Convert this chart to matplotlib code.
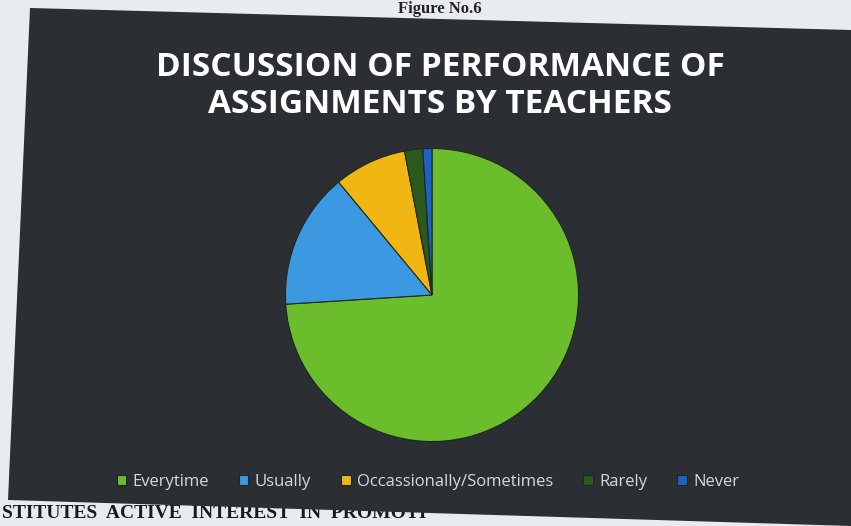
import matplotlib
matplotlib.use("Agg")
import matplotlib.pyplot as plt
from matplotlib.patches import Polygon

categories = ["Everytime", "Usually", "Occassionally/Sometimes", "Rarely", "Never"]
values = [74, 15, 8, 2, 1]
colors = ["#6cbd2c", "#3d98e2", "#f1b611", "#2c5a1e", "#1e62c8"]
title = "DISCUSSION OF PERFORMANCE OF\nASSIGNMENTS BY TEACHERS"

W, H = 851, 526
fig = plt.figure(figsize=(W / 100, H / 100), dpi=100)
fig.patch.set_facecolor("#e9ecef")

def fx(x):
    return x / W

def fy(y):
    return 1 - y / H

# dark chart panel (photographed, slightly skewed)
poly = Polygon([(fx(30), fy(8)), (fx(851), fy(30)), (fx(851), fy(526)),
                (fx(8), fy(500))], closed=True, transform=fig.transFigure,
               facecolor="#2b2f34", edgecolor="none", zorder=-5)
fig.patches.append(poly)

fig.text(fx(440), fy(1), "Figure No.6", ha="center", va="top",
         family="Liberation Serif", weight="bold", fontsize=12, color="#222222")
fig.text(fx(440), fy(86), title, ha="center", va="center",
         family="Open Sans", weight="bold", fontsize=24, color="white",
         linespacing=1.18)
fig.text(fx(2), fy(514), "STITUTES  ACTIVE  INTEREST  IN  PROMOTI", ha="left",
         va="center", family="Liberation Serif", weight="bold", fontsize=14,
         color="#1a1a1a", zorder=-10)

ax = fig.add_axes([fx(284), fy(443), fx(296), 296 / H], zorder=2)
wedges, _ = ax.pie(values, colors=colors, startangle=90, counterclock=False,
                   wedgeprops=dict(edgecolor="#1b2a1b", linewidth=0.8))
ax.set_xlim(-1.01, 1.01)
ax.set_ylim(-1.01, 1.01)
ax.set_aspect("equal")

leg = fig.legend(wedges, categories, loc="center", bbox_to_anchor=(fx(428), fy(482)),
                 ncol=5, frameon=False, handlelength=0.55, handleheight=0.55,
                 handletextpad=0.4, columnspacing=1.8,
                 prop=dict(family="Open Sans", size=12))
for t in leg.get_texts():
    t.set_color("#d8d8d8")

fig.savefig("out.png", dpi=100, facecolor=fig.get_facecolor())
